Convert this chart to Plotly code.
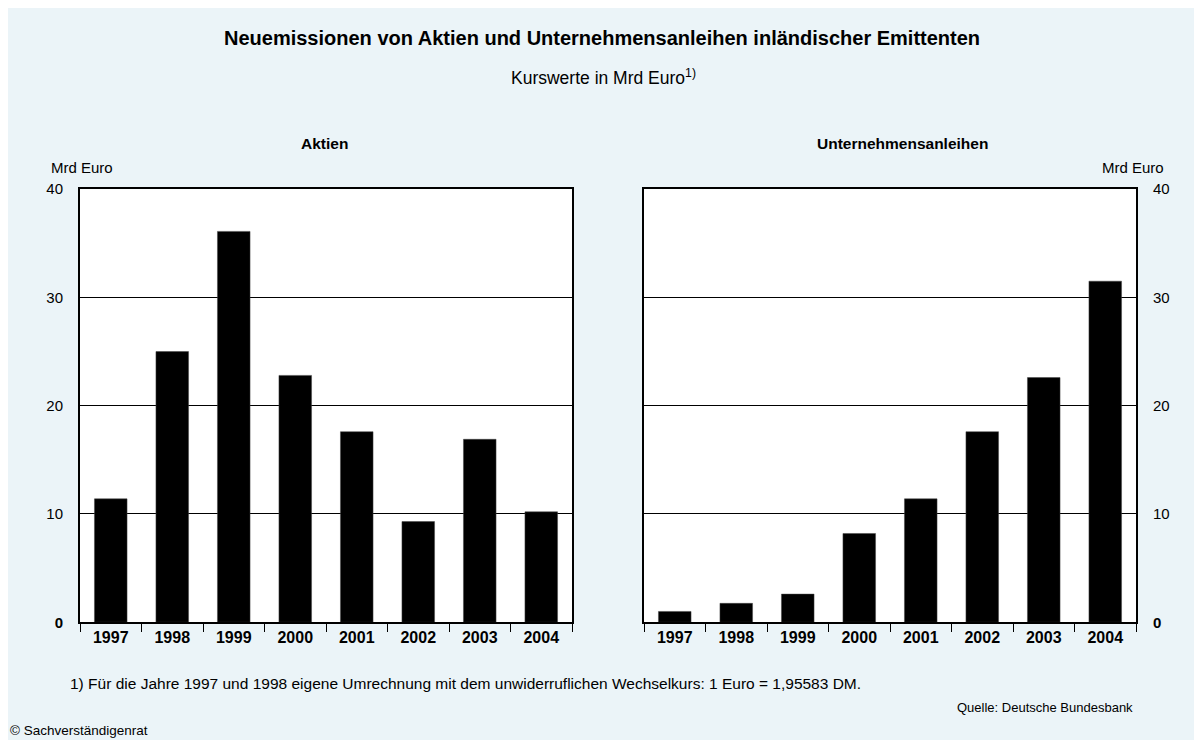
import plotly.graph_objects as go

years = ["1997", "1998", "1999", "2000", "2001", "2002", "2003", "2004"]
aktien = [11.4, 25.0, 36.1, 22.8, 17.6, 9.3, 16.9, 10.2]
anleihen = [1.0, 1.75, 2.6, 8.2, 11.4, 17.6, 22.6, 31.5]
y_ticks = [0, 10, 20, 30, 40]
y_ticktext = ["<b>0</b>", "10", "20", "30", "40"]

W, H = 1202, 740
FONT = "Arial, 'Liberation Sans', sans-serif"
BG = "#EBF4F8"

# screen-position helpers (page offset / scale calibration)
def px(x):
    return (x - 8) / W

def py(y):
    p = (y - 15.5) / 0.979
    return 1 - p / H

fig = go.Figure()
fig.add_trace(go.Bar(x=years, y=aktien, xaxis="x", yaxis="y",
                     marker=dict(color="black", line=dict(color="#444", width=0.5)),
                     hoverinfo="x+y", showlegend=False))
fig.add_trace(go.Bar(x=years, y=anleihen, xaxis="x2", yaxis="y2",
                     marker=dict(color="black", line=dict(color="#444", width=0.5)),
                     hoverinfo="x+y", showlegend=False))

xcommon = dict(type="category", range=[-0.5, 7.5], showline=True, linecolor="black",
               linewidth=2, mirror=True, ticks="outside", tickson="boundaries",
               ticklen=8, tickwidth=1, tickcolor="black", showgrid=False,
               tickfont=dict(family=FONT, size=16, color="black", weight="bold"),
               fixedrange=True)
ycommon = dict(range=[0, 40], tickvals=y_ticks, ticktext=y_ticktext, showline=True,
               linecolor="black", linewidth=2, mirror=True, ticks="", showgrid=True,
               gridcolor="black", gridwidth=1.3, zeroline=False,
               tickfont=dict(family=FONT, size=15, color="black"),
               ticklabelstandoff=12, fixedrange=True)

fig.update_layout(
    width=W, height=H,
    margin=dict(l=0, r=0, t=0, b=0),
    paper_bgcolor=BG,
    plot_bgcolor="white",
    bargap=0.47,
    xaxis=dict(domain=[px(80), px(572)], anchor="y", **xcommon),
    yaxis=dict(domain=[py(622), py(188)], anchor="x", side="left", **ycommon),
    xaxis2=dict(domain=[px(644), px(1136)], anchor="y2", **xcommon),
    yaxis2=dict(domain=[py(622), py(188)], anchor="x2", side="right", **ycommon),
    font=dict(family=FONT, color="black"),
)

def ann(text, x, y, size, xanchor="center", bold=False):
    fig.add_annotation(text=text, x=px(x), y=py(y), xref="paper", yref="paper",
                       xanchor=xanchor, yanchor="middle", showarrow=False,
                       font=dict(family=FONT, size=size, color="black",
                                 weight="bold" if bold else "normal"))

ann("Neuemissionen von Aktien und Unternehmensanleihen inländischer Emittenten", 602, 37, 20, bold=True)
ann("Kurswerte in Mrd Euro<sup>1)</sup>", 603, 76, 17.5)
ann("Aktien", 324, 142, 15.5, bold=True)
ann("Unternehmensanleihen", 902, 142, 15.5, bold=True)
ann("Mrd Euro", 49, 166, 15, xanchor="left")
ann("Mrd Euro", 1166, 166, 15, xanchor="right")
ann("1) Für die Jahre 1997 und 1998 eigene Umrechnung mit dem unwiderruflichen Wechselkurs: 1 Euro = 1,95583 DM.",
    68, 683, 15.5, xanchor="left")
ann("Quelle: Deutsche Bundesbank", 1135, 707, 13, xanchor="right")
ann("© Sachverständigenrat", 8, 730, 13.5, xanchor="left")

fig.write_html("out.html")
